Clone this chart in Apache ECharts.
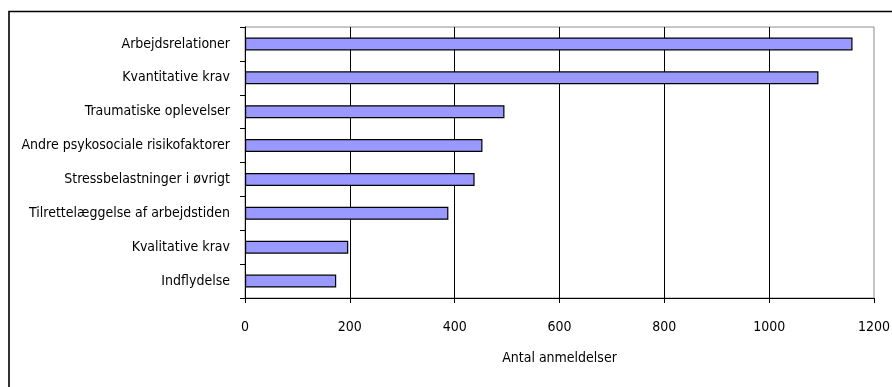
<!DOCTYPE html>
<html>
<head>
<meta charset="utf-8">
<script src="https://cdn.jsdelivr.net/npm/echarts@6/dist/echarts.min.js"></script>
<style>
  html, body { margin: 0; padding: 0; background: #fff; }
  #chart { width: 892px; height: 387px; }
</style>
</head>
<body>
<div id="chart"></div>
<script>
// Number of notifications by psychosocial category
const categories = [
  'Arbejdsrelationer',
  'Kvantitative krav',
  'Traumatiske oplevelser',
  'Andre psykosociale risikofaktorer',
  'Stressbelastninger i øvrigt',
  'Tilrettelæggelse af arbejdstiden',
  'Kvalitative krav',
  'Indflydelse'
];
const anmeldelser = [1159, 1094, 495, 453, 438, 388, 197, 174];
const xTicks = [0, 200, 400, 600, 800, 1000, 1200];
const xAxisTitle = 'Antal anmeldelser';

const FONT = "'Liberation Sans Narrow', 'Arial Narrow', 'DejaVu Sans Condensed', sans-serif";

const chart = echarts.init(document.getElementById('chart'), null, { renderer: 'canvas' });

chart.setOption({
  animation: false,
  backgroundColor: '#ffffff',
  textStyle: { fontFamily: FONT },
  graphic: [
    {
      // chart frame (only top and left edges fall inside the canvas)
      type: 'rect',
      shape: { x: 9, y: 11.5, width: 2000, height: 2000 },
      style: { fill: 'none', stroke: '#000', lineWidth: 1.6 },
      silent: true
    }
  ],
  grid: {
    left: 245,
    right: 18,
    top: 27,
    bottom: 89,
    containLabel: false,
    outerBoundsMode: 'none',
    show: true,
    borderColor: '#8c8c8c',
    borderWidth: 1,
    backgroundColor: 'transparent'
  },
  xAxis: {
    type: 'value',
    min: xTicks[0],
    max: xTicks[xTicks.length - 1],
    interval: xTicks[1] - xTicks[0],
    name: xAxisTitle,
    nameLocation: 'middle',
    nameGap: 53,
    nameTextStyle: { color: '#000', fontSize: 14, fontFamily: FONT },
    axisLine: { show: true, onZero: false, lineStyle: { color: '#000', width: 1 } },
    axisTick: { show: true, inside: false, length: 5, lineStyle: { color: '#000' } },
    axisLabel: {
      color: '#000', fontSize: 14, fontFamily: FONT, margin: 22,
      formatter: v => String(v)
    },
    splitLine: {
      show: true,
      showMinLine: false,
      showMaxLine: false,
      lineStyle: { color: '#000', width: 1 }
    }
  },
  yAxis: {
    type: 'category',
    data: categories,
    inverse: true,
    axisLine: { show: true, lineStyle: { color: '#000', width: 1 } },
    axisTick: { show: true, inside: false, length: 5, alignWithLabel: false, lineStyle: { color: '#000' } },
    axisLabel: { color: '#000', fontSize: 14, fontFamily: FONT, margin: 15 },
    splitLine: { show: false }
  },
  series: [
    {
      type: 'bar',
      data: anmeldelser,
      barWidth: 13,
      itemStyle: { color: '#9999ff', borderColor: '#000', borderWidth: 1.2 },
      label: { show: false }
    }
  ]
});
</script>
</body>
</html>
